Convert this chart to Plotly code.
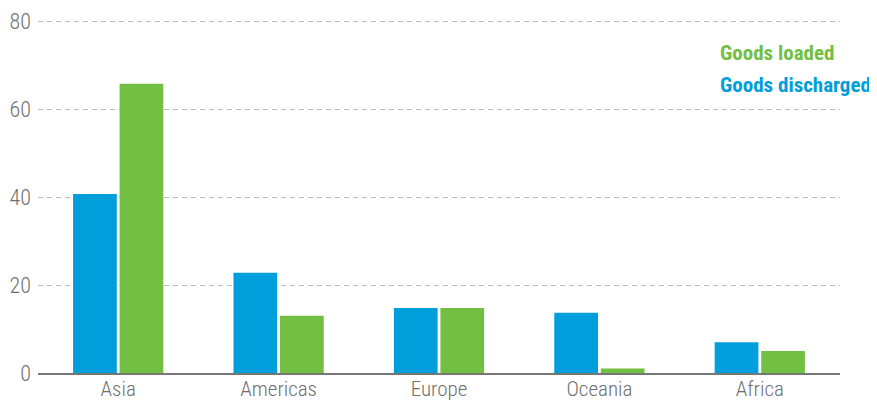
import plotly.graph_objects as go

regions = ["Asia", "Americas", "Europe", "Oceania", "Africa"]
goods_discharged = [40.7, 22.8, 14.8, 13.7, 7.0]
goods_loaded = [65.8, 13.0, 14.8, 1.0, 5.0]
y_ticks = [0, 20, 40, 60, 80]

BLUE = "#009EDB"
GREEN = "#72BF44"
FONT = "Roboto Condensed, Liberation Sans Narrow, Roboto, sans-serif"

# page offset of the plot div (browser default body margin)
OFF = 8
W, H = 877, 400
# target plot area in window pixels
X0, X1, Y0_80, Y_0 = 38, 840, 21, 373
YMAX = 81
ph = (Y_0 - Y0_80) * YMAX / 80
top = Y_0 - ph

fig = go.Figure()
fig.add_trace(go.Bar(x=regions, y=goods_discharged, name="Goods discharged",
                     marker=dict(color=BLUE, line=dict(width=0))))
fig.add_trace(go.Bar(x=regions, y=goods_loaded, name="Goods loaded",
                     marker=dict(color=GREEN, line=dict(width=0))))

fig.update_layout(
    width=W, height=H,
    margin=dict(l=X0 - OFF, r=W + OFF - X1, t=top - OFF, b=H + OFF - Y_0, autoexpand=False),
    paper_bgcolor="white", plot_bgcolor="white",
    barmode="group", bargap=0.42, bargroupgap=0.06,
    showlegend=False,
    font=dict(family=FONT, size=22, color="#707070"),
    xaxis=dict(showgrid=False, showline=True, linecolor="#777777", linewidth=1.5,
               ticks="", automargin=False, ticklabelstandoff=-4,
               tickfont=dict(family=FONT, size=21, color="#707070", weight=300),
               fixedrange=True),
    yaxis=dict(range=[0, YMAX], tickvals=y_ticks, showgrid=True,
               gridcolor="#bbbbbb", griddash="5px,4px", gridwidth=1,
               zeroline=False, showline=False, ticks="", automargin=False,
               tickfont=dict(family=FONT, size=22, color="#707070", weight=300),
               ticklabelstandoff=6, fixedrange=True),
)

pw = X1 - X0
legend_items = [("Goods loaded", GREEN, 53), ("Goods discharged", BLUE, 85)]
anns = []
for text, col, ypix in legend_items:
    anns.append(dict(text=f"<b>{text}</b>", x=(718 - X0) / pw, y=(Y_0 - ypix) / ph,
                     xref="paper", yref="paper", xanchor="left", yanchor="middle",
                     showarrow=False, font=dict(size=21, color=col, family=FONT)))
fig.update_layout(annotations=anns)

fig.write_html("out.html")
